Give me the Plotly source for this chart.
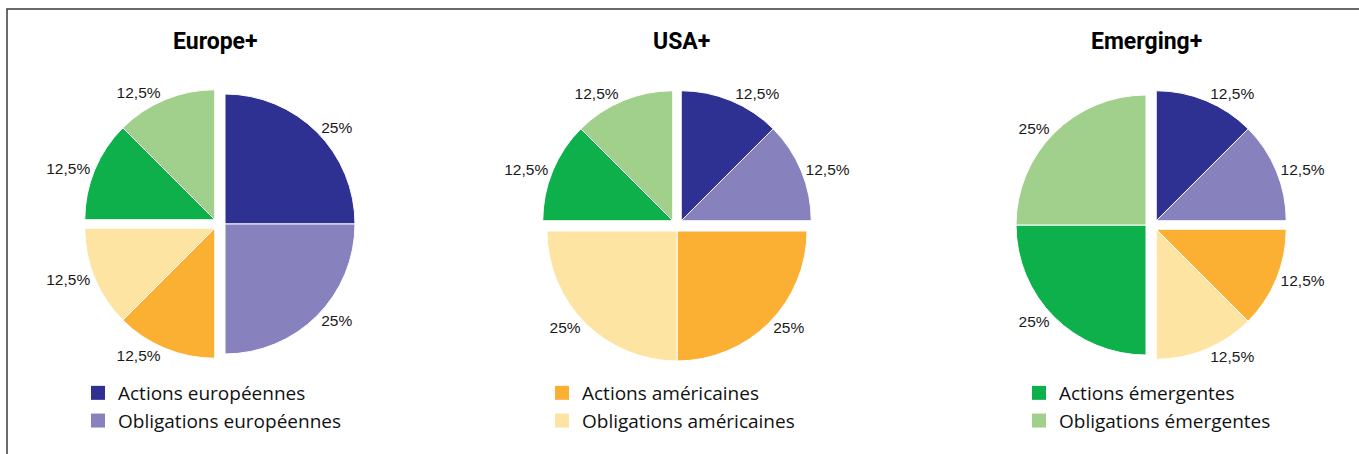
import math
import plotly.graph_objects as go

# ---------------- data ----------------
categories = ["Actions européennes", "Obligations européennes",
              "Actions américaines", "Obligations américaines",
              "Actions émergentes", "Obligations émergentes"]
regions = ["Europe", "Europe", "USA", "USA", "Emerging", "Emerging"]
colors = ["#2e3192", "#8781bd", "#fbb034", "#fee4a3", "#0db04b", "#a1d08c"]

portfolios = ["Europe+", "USA+", "Emerging+"]
europe_plus = [25, 25, 12.5, 12.5, 12.5, 12.5]
usa_plus = [12.5, 12.5, 25, 25, 12.5, 12.5]
emerging_plus = [12.5, 12.5, 12.5, 12.5, 25, 25]
portfolio_values = [europe_plus, usa_plus, emerging_plus]
legend_regions = ["Europe", "USA", "Emerging"]

# ---------------- layout constants ----------------
W, H = 1359, 454
R = 130                     # pie radius, px
GAP = 6                     # how far each region group is pulled out, px
pie_centers = [(219, 224), (677, 225), (1152, 225)]
title_x = [215.5, 681.5, 1146.7]
title_y = 41
legend_left = [78, 542, 1019]
legend_top = 374

def fmt(v):
    return ("%g" % v).replace(".", ",") + "%"

fig = go.Figure()

region_order = ["Europe", "USA", "Emerging"]
for p, (name, values) in enumerate(zip(portfolios, portfolio_values)):
    total = float(sum(values))
    cx, cy = pie_centers[p]
    for reg in region_order:
        idx = [i for i, r in enumerate(regions) if r == reg]
        start = sum(values[:idx[0]])
        span = sum(values[i] for i in idx)
        ang = (start + span / 2.0) / total * 2 * math.pi
        dx = GAP * math.sin(ang)
        dy = -GAP * math.cos(ang)
        px, py = cx + dx, cy + dy
        dom_x = [(px - R) / W, (px + R) / W]
        dom_y = [1 - (py + R) / H, 1 - (py - R) / H]
        fig.add_trace(go.Pie(
            labels=categories,
            values=values,
            sort=False,
            direction="clockwise",
            rotation=0,
            marker=dict(
                colors=[colors[i] if i in idx else "rgba(0,0,0,0)" for i in range(len(values))],
                line=dict(color="white",
                          width=[1 if i in idx else 0 for i in range(len(values))]),
            ),
            text=[fmt(values[i]) if i in idx else "" for i in range(len(values))],
            textinfo="text",
            textposition="outside",
            outsidetextfont=dict(family="Liberation Sans", size=15.5, color="#1a1a1a"),
            hoverinfo="label+text",
            showlegend=False,
            domain=dict(x=dom_x, y=dom_y),
            name=name,
        ))

# legends (one per pie)
for li, reg in enumerate(legend_regions):
    lname = "legend" if li == 0 else "legend%d" % (li + 1)
    for i, r in enumerate(regions):
        if r == reg:
            fig.add_trace(go.Scatter(
                x=[None], y=[None], mode="markers",
                marker=dict(symbol="square", size=14, color=colors[i]),
                name=categories[i], legend=lname, hoverinfo="skip",
            ))

legend_style = dict(
    xanchor="left", yanchor="top",
    font=dict(family="Open Sans", size=19, color="#111111", weight=500),
    bgcolor="rgba(0,0,0,0)", borderwidth=0,
    tracegroupgap=0,
)
layout_legends = {}
for li in range(3):
    key = "legend" if li == 0 else "legend%d" % (li + 1)
    layout_legends[key] = dict(legend_style, x=legend_left[li] / W, y=1 - legend_top / H)

annotations = [
    dict(text="<b>%s</b>" % t, x=title_x[k] / W, y=1 - title_y / H,
         xref="paper", yref="paper", xanchor="center", yanchor="middle",
         showarrow=False, font=dict(family="Roboto", size=23, color="#000000"))
    for k, t in enumerate(portfolios)
]

fig.update_layout(
    width=W, height=H,
    margin=dict(l=0, r=0, t=0, b=0),
    paper_bgcolor="white", plot_bgcolor="white",
    xaxis=dict(visible=False), yaxis=dict(visible=False),
    annotations=annotations,
    shapes=[dict(type="rect", xref="paper", yref="paper",
                 x0=7 / W, x1=1.05, y0=-0.05, y1=1 - 9 / H,
                 line=dict(color="#3a3a3a", width=1.5), fillcolor="rgba(0,0,0,0)")],
    **layout_legends,
)

fig.write_html("out.html")
